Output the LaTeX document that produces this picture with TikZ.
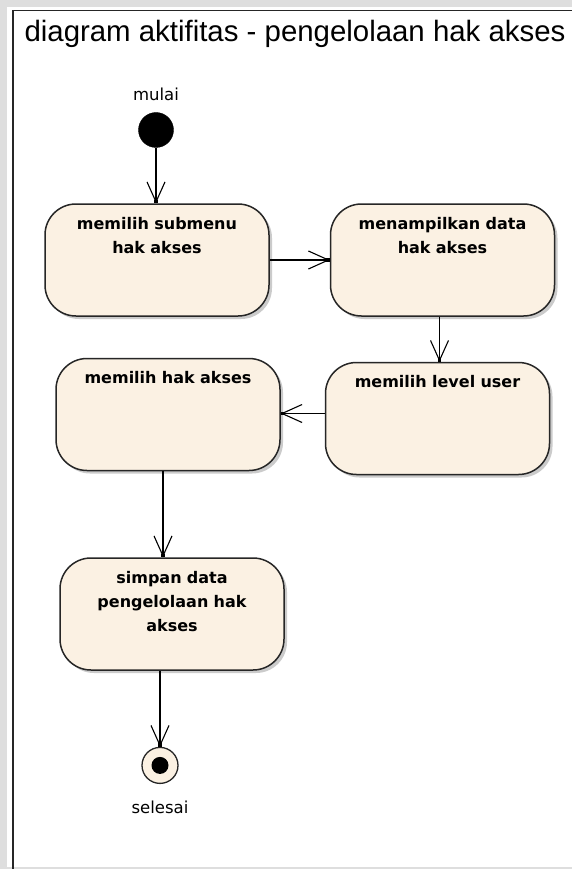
\documentclass[tikz,border=0pt]{standalone}
\usepackage{fontspec}
\setsansfont{DejaVu Sans}
\newfontfamily\titlefont{Liberation Sans}
\usetikzlibrary{arrows.meta,positioning,shadows}
\definecolor{ink}{HTML}{262626}
\definecolor{actfill}{HTML}{FBF1E3}
\definecolor{framegray}{HTML}{DEDEDE}
\tikzset{
  action/.style={draw=ink, line width=1.5pt, rounded corners=31pt, fill=actfill, text width=210pt, align=center, text height=20pt, text depth=82pt, inner xsep=7pt, inner ysep=5pt, font=\sffamily\bfseries\fontsize{16}{24}\selectfont, drop shadow={shadow xshift=3pt, shadow yshift=-3pt, fill=black!40}},
  initial/.style={circle, fill=black, draw=black, minimum size=35pt, inner sep=0pt},
  final/.style={circle, fill=actfill, draw=ink, line width=1.3pt, minimum size=36pt, inner sep=0pt, path picture={\fill[black] (path picture bounding box.center) circle (8.5pt);}},
  lbl/.style={font=\sffamily\fontsize{16.5}{20}\selectfont, text=black},
  flow/.style={draw=black, line width=1.1pt, -{Straight Barb[length=20pt,width=18pt,line width=1.1pt,sep=-3.5pt] Square[length=3.5pt,width=3.5pt]}}
}
\begin{document}
\begin{tikzpicture}[x=1pt, y=-1pt]
  \useasboundingbox (0,0) rectangle (572,869);
  % frame of the diagram
  \fill[framegray] (0,0) rectangle (572,869);
  \fill[white] (7,7) rectangle (572,867);
  \draw[line width=1.6pt, black!85] (13,869) -- (13,10.5) -- (572,10.5);
  \node[anchor=west, font=\titlefont\fontsize{29.4}{33}\selectfont] (judul) at (21,34) {diagram aktifitas - pengelolaan hak akses};

  \node[initial, label={[lbl, label distance=8pt]above:mulai}] (mulai) at (156,130) {};
  \node[action] (pilihmenu) at (157,260) {memilih submenu\\hak akses};
  \node[action, right=60pt of pilihmenu] (tampil) {menampilkan data\\hak akses};
  \node[action, below=45pt of tampil, xshift=-5pt] (level) {memilih level user};
  \node[action, left=44pt of level, yshift=4pt] (pilihhak) {memilih hak akses};
  \node[action, below=86pt of pilihhak, xshift=4pt] (simpan) {simpan data\\pengelolaan hak\\akses};
  \node[final, below=76pt of simpan, xshift=-12pt, label={[lbl, label distance=13pt]below:selesai}] (selesai) {};

  \draw[flow] (mulai) -- (mulai |- pilihmenu.north);
  \draw[flow] (pilihmenu) -- (tampil);
  \draw[flow] ([xshift=-3pt]tampil.south) -- ([xshift=-3pt]tampil.south |- level.north);
  \draw[flow] ([yshift=5pt]level.west) -- ([yshift=5pt]level.west -| pilihhak.east);
  \draw[flow] ([xshift=-5pt]pilihhak.south) -- ([xshift=-5pt]pilihhak.south |- simpan.north);
  \draw[flow] (selesai |- simpan.south) -- (selesai);
\end{tikzpicture}
\end{document}
